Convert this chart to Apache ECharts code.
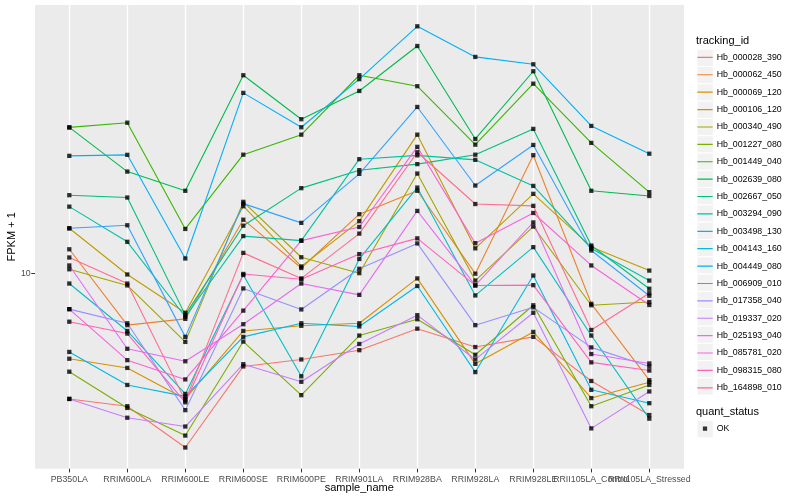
<!DOCTYPE html>
<html>
<head>
<meta charset="utf-8">
<script src="https://cdn.jsdelivr.net/npm/echarts@6/dist/echarts.min.js"></script>
<style>
  html, body { margin: 0; padding: 0; background: #ffffff; }
  #chart { width: 800px; height: 500px; }
</style>
</head>
<body>
<div id="chart"></div>
<script>
// ---- data (FPKM + 1) ----
const categories = ['PB350LA', 'RRIM600LA', 'RRIM600LE', 'RRIM600SE', 'RRIM600PE', 'RRIM901LA',
  'RRIM928BA', 'RRIM928LA', 'RRIM928LE', 'RRII105LA_Control', 'RRII105LA_Stressed'];

const Hb_000028_390 = [6.17, 6.00, 5.12, 6.99, 7.18, 7.44, 8.08, 7.53, 7.83, 6.61, 5.80];
const Hb_000062_450 = [10.96, 8.19, 8.39, 12.28, 10.20, 12.54, 13.72, 9.98, 15.73, 8.89, 6.63];
const Hb_000069_120 = [7.20, 6.95, 6.17, 8.01, 8.17, 8.25, 9.80, 7.06, 7.98, 6.19, 6.58];
const Hb_000106_120 = [11.88, 9.95, 8.59, 12.93, 10.26, 12.21, 17.02, 11.00, 13.56, 11.06, 10.10];
const Hb_000340_490 = [10.15, 9.54, 7.68, 13.15, 10.63, 10.00, 14.66, 9.72, 11.96, 8.84, 8.95];
const Hb_001227_080 = [6.85, 5.96, 5.36, 7.69, 6.26, 7.87, 8.38, 7.31, 8.84, 6.00, 6.51];
const Hb_001449_040 = [17.50, 17.82, 11.85, 15.76, 17.02, 21.38, 20.50, 16.38, 20.70, 16.49, 13.65];
const Hb_002639_080 = [17.50, 14.77, 13.72, 21.38, 18.06, 20.13, 23.92, 16.74, 21.71, 13.72, 13.45];
const Hb_002667_050 = [13.49, 13.37, 8.52, 12.00, 13.86, 14.85, 15.20, 15.76, 17.40, 11.12, 9.42];
const Hb_003294_090 = [12.91, 11.28, 8.46, 11.53, 11.33, 15.49, 15.72, 15.45, 13.98, 10.99, 9.72];
const Hb_003498_130 = [9.61, 8.01, 6.29, 9.93, 6.73, 10.56, 13.89, 9.18, 11.05, 7.87, 5.72];
const Hb_004143_160 = [7.39, 6.51, 6.23, 7.83, 8.25, 8.15, 9.52, 6.84, 9.91, 6.39, 6.07];
const Hb_004449_080 = [15.69, 15.75, 10.58, 19.98, 17.51, 21.06, 25.80, 22.94, 22.30, 17.60, 15.82];
const Hb_006909_010 = [11.88, 12.02, 7.83, 13.06, 12.13, 14.64, 18.93, 14.00, 16.36, 10.91, 9.17];
const Hb_017358_040 = [8.71, 8.25, 5.91, 9.43, 8.70, 10.17, 11.21, 8.19, 8.77, 7.52, 6.99];
const Hb_019337_020 = [6.17, 5.74, 5.55, 7.05, 6.59, 7.62, 8.51, 7.18, 8.59, 5.51, 6.35];
const Hb_025193_040 = [10.30, 7.48, 7.13, 8.22, 9.61, 9.20, 12.70, 9.54, 12.15, 7.33, 7.07];
const Hb_085781_020 = [8.71, 7.16, 6.65, 8.66, 11.33, 11.94, 16.24, 11.22, 12.60, 10.30, 8.85];
const Hb_098315_080 = [8.30, 7.93, 6.09, 9.97, 9.77, 10.76, 11.43, 9.54, 9.55, 7.10, 6.88];
const Hb_164898_010 = [10.62, 9.61, 6.13, 10.81, 9.80, 11.64, 15.91, 13.04, 12.95, 8.04, 9.26];

const trackingIds = ['Hb_000028_390', 'Hb_000062_450', 'Hb_000069_120', 'Hb_000106_120', 'Hb_000340_490',
  'Hb_001227_080', 'Hb_001449_040', 'Hb_002639_080', 'Hb_002667_050', 'Hb_003294_090',
  'Hb_003498_130', 'Hb_004143_160', 'Hb_004449_080', 'Hb_006909_010', 'Hb_017358_040',
  'Hb_019337_020', 'Hb_025193_040', 'Hb_085781_020', 'Hb_098315_080', 'Hb_164898_010'];
const seriesValues = [Hb_000028_390, Hb_000062_450, Hb_000069_120, Hb_000106_120, Hb_000340_490,
  Hb_001227_080, Hb_001449_040, Hb_002639_080, Hb_002667_050, Hb_003294_090,
  Hb_003498_130, Hb_004143_160, Hb_004449_080, Hb_006909_010, Hb_017358_040,
  Hb_019337_020, Hb_025193_040, Hb_085781_020, Hb_098315_080, Hb_164898_010];
const quantStatus = ['OK'];
const yTicks = [10];

// ---- styles ----
const palette = ['#F8766D', '#EA8331', '#D89000', '#C09B00', '#A3A500', '#7CAE00', '#39B600', '#00BB4E',
  '#00BF7D', '#00C1A3', '#00BFC4', '#00BAE0', '#00B0F6', '#35A2FF', '#9590FF', '#C77CFF',
  '#E76BF3', '#FA62DB', '#FF62BC', '#FF6C91'];
const FONT = '"Liberation Sans", Arial, Helvetica, sans-serif';
const Y_MIN = 4.72, Y_MAX = 28.0;

const chart = echarts.init(document.getElementById('chart'), null, { renderer: 'canvas' });

const series = [];
seriesValues.forEach((vals, i) => {
  series.push({
    name: trackingIds[i], type: 'line', xAxisIndex: 1, yAxisIndex: 1,
    data: vals, symbol: 'none', showSymbol: false, silent: true,
    lineStyle: { color: palette[i], width: 1.1 }, itemStyle: { color: palette[i] },
    z: 2
  });
});
seriesValues.forEach((vals) => {
  series.push({
    name: quantStatus[0], type: 'scatter', xAxisIndex: 1, yAxisIndex: 1,
    data: vals, symbol: 'rect', symbolSize: 4.3, silent: true,
    itemStyle: { color: '#000000' }, z: 3
  });
});

const lineIcon = 'path://M0,0L0.01,0M0,7.4L16,7.4L16,8.6L0,8.6ZM16,16L16.01,16';
const dotIcon = 'path://M0,0L0.01,0M5.8,5.8L10.2,5.8L10.2,10.2L5.8,10.2ZM16,16L16.01,16';

const keyRects = [];
for (let i = 0; i < trackingIds.length; i++) {
  keyRects.push({ type: 'rect', shape: { x: 697, y: 49.2 + i * 17.3, width: 16.3, height: 17.3 },
    style: { fill: '#F2F2F2', stroke: '#FFFFFF', lineWidth: 1 }, z: -1, silent: true });
}
keyRects.push({ type: 'rect', shape: { x: 697, y: 420.5, width: 16.3, height: 17.3 },
  style: { fill: '#F2F2F2', stroke: '#FFFFFF', lineWidth: 1 }, z: -1, silent: true });

const option = {
  animation: false,
  backgroundColor: '#FFFFFF',
  textStyle: { fontFamily: FONT },
  title: [
    { text: 'tracking_id', left: 696, top: 35.5, padding: 0,
      textStyle: { fontSize: 11, fontWeight: 'normal', color: '#000000', fontFamily: FONT } },
    { text: 'quant_status', left: 696, top: 406.5, padding: 0,
      textStyle: { fontSize: 11, fontWeight: 'normal', color: '#000000', fontFamily: FONT } }
  ],
  legend: [
    {
      orient: 'vertical', left: 697.3, top: 49.7, padding: 0,
      itemWidth: 15.4, itemHeight: 16, itemGap: 2, selectedMode: false,
      icon: lineIcon,
      itemStyle: { borderWidth: 0 },
      textStyle: { fontSize: 8.8, color: '#000000', fontFamily: FONT, padding: [0, 0, 0, -1] },
      data: trackingIds.map((n, i) => ({ name: n, itemStyle: { color: palette[i], borderWidth: 0 } }))
    },
    {
      orient: 'vertical', left: 697.3, top: 421, padding: 0,
      itemWidth: 15.4, itemHeight: 16, selectedMode: false,
      icon: dotIcon,
      itemStyle: { borderWidth: 0 },
      textStyle: { fontSize: 8.8, color: '#000000', fontFamily: FONT, padding: [0, 0, 0, -1] },
      data: [{ name: quantStatus[0], itemStyle: { color: '#000000', borderWidth: 0 } }]
    }
  ],
  graphic: keyRects,
  grid: [
    { left: 35, right: 116, top: 5, bottom: 31.3, show: true, backgroundColor: '#EBEBEB', borderWidth: 0,
      containLabel: false, outerBoundsMode: 'none' },
    { left: 40.3, right: 121.7, top: 5, bottom: 31.3, show: false,
      containLabel: false, outerBoundsMode: 'none' }
  ],
  xAxis: [
    { gridIndex: 0, type: 'category', data: categories, show: false },
    {
      gridIndex: 1, type: 'category', data: categories, boundaryGap: true,
      axisLine: { show: false },
      axisTick: { show: true, alignWithLabel: true, interval: 0, length: 3.7, lineStyle: { color: '#333333', width: 1 } },
      axisLabel: { interval: 0, fontSize: 8.8, color: '#4D4D4D', margin: 6, fontFamily: FONT, hideOverlap: false },
      splitLine: { show: true, alignWithLabel: true, interval: 0, lineStyle: { color: '#FFFFFF', width: 1.3 } },
      name: 'sample_name', nameLocation: 'middle', nameGap: 14, nameMoveOverlap: false,
      nameTextStyle: { fontSize: 11, color: '#000000', fontFamily: FONT }
    }
  ],
  yAxis: [
    {
      gridIndex: 0, type: 'log', logBase: 10, min: Y_MIN, max: Y_MAX,
      axisLine: { show: false },
      axisTick: { show: true, length: 3.7, customValues: yTicks, lineStyle: { color: '#333333', width: 1 } },
      axisLabel: { customValues: yTicks, showMinLabel: false, showMaxLabel: false,
        fontSize: 8.8, color: '#4D4D4D', margin: 4.3, fontFamily: FONT,
        formatter: (v) => (Math.abs(v - 10) < 1e-6 ? '10' : '') },
      splitLine: { show: true, showMinLine: false, showMaxLine: false, lineStyle: { color: '#FFFFFF', width: 1.3 } },
      name: 'FPKM + 1', nameLocation: 'middle', nameGap: 18, nameRotate: 90, nameMoveOverlap: false,
      nameTextStyle: { fontSize: 11, color: '#000000', fontFamily: FONT }
    },
    { gridIndex: 1, type: 'log', logBase: 10, min: Y_MIN, max: Y_MAX, show: false }
  ],
  series: series
};

chart.setOption(option);
</script>
</body>
</html>
